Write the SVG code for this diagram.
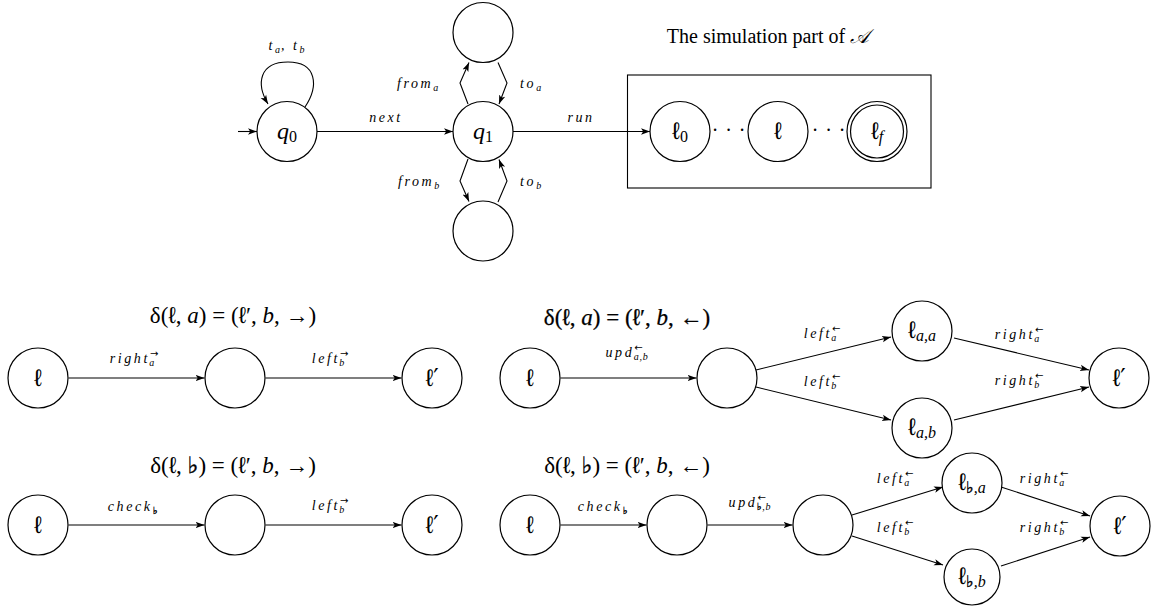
<svg xmlns="http://www.w3.org/2000/svg" width="1160" height="606" viewBox="0 0 1160 606">
<style>
  .st { fill: #fff; stroke: #000; stroke-width: 1.2; }
  .ed { fill: none; stroke: #000; stroke-width: 1.1; marker-end: url(#ah); }
  .box { fill: none; stroke: #000; stroke-width: 1.1; }
  .el { font-family: "Liberation Serif", "DejaVu Serif", serif; font-style: italic; font-size: 14px; letter-spacing: 2.6px; fill: #000; }
  .sup { font-family: "DejaVu Sans", sans-serif; font-style: normal; font-size: 10px; letter-spacing: 0; }
  .sub { font-size: 10px; letter-spacing: 0.8px; }
  .nl { font-family: "Liberation Serif", "DejaVu Serif", serif; font-size: 24px; fill: #000; }
  .it { font-style: italic; }
  .ns { font-size: 16px; }
  .nsi { font-size: 16px; font-style: italic; }
  .ti { font-family: "Liberation Serif", "DejaVu Serif", serif; font-size: 23px; fill: #000; }
  .tb { stroke: #000; stroke-width: 0.25; }
  .cap { font-family: "Liberation Serif", "DejaVu Serif", serif; font-size: 20px; fill: #000; }
  .fl { font-family: "DejaVu Sans", "DejaVu Serif", sans-serif; font-style: normal; fill: #000; stroke: #000; stroke-width: 0.4; font-variant-emoji: text; }
  .ell { font-family: "DejaVu Sans", "DejaVu Serif", sans-serif; font-style: normal; font-weight: 200; }
</style>
<defs>
  <marker id="ah" markerWidth="10" markerHeight="8" refX="9" refY="4" orient="auto" markerUnits="userSpaceOnUse">
    <path d="M0,0.8 L9,4 L0,7.2 L2.2,4 z" fill="#000"/>
  </marker>
</defs>

<!-- Top: controller part -->
<text class="cap" x="768" y="43" text-anchor="middle">The simulation part of <tspan font-style="italic" font-family="DejaVu Serif, Liberation Serif, serif">𝒜</tspan></text>
<rect class="box" x="627.5" y="75" width="303.5" height="113"/>

<g id="connectors">
  <!-- top -->
  <line class="ed" x1="238" y1="131.5" x2="257" y2="131.5"/>
  <path class="ed" d="M305,107 C319,86 317,62 288,62 C259,62 256,84 268,104"/>
  <line class="ed" x1="317" y1="131.5" x2="453" y2="131.5"/>
  <polyline class="ed" points="468,104 460,83 469,62.5"/>
  <polyline class="ed" points="498,62.5 507,83 499,104"/>
  <polyline class="ed" points="468,159 460,181 469,201.5"/>
  <polyline class="ed" points="498,202 507,181 499,159.5"/>
  <line class="ed" x1="513" y1="131.5" x2="650" y2="131.5"/>
  <!-- row 1 left -->
  <line class="ed" x1="68.5" y1="378" x2="204.5" y2="378"/>
  <line class="ed" x1="265.5" y1="378" x2="401.5" y2="378"/>
  <!-- row 1 right -->
  <line class="ed" x1="560.5" y1="378" x2="696.5" y2="378"/>
  <line class="ed" x1="756" y1="370" x2="891" y2="337"/>
  <line class="ed" x1="756" y1="387" x2="891" y2="420"/>
  <line class="ed" x1="954" y1="338" x2="1089" y2="370"/>
  <line class="ed" x1="954" y1="420" x2="1089" y2="387"/>
  <!-- row 2 left -->
  <line class="ed" x1="68.5" y1="525" x2="204.5" y2="525"/>
  <line class="ed" x1="265.5" y1="525" x2="401.5" y2="525"/>
  <!-- row 2 right -->
  <line class="ed" x1="560.5" y1="525" x2="646.5" y2="525"/>
  <line class="ed" x1="707.5" y1="525" x2="792.5" y2="525"/>
  <line class="ed" x1="852" y1="515" x2="943" y2="487"/>
  <line class="ed" x1="852" y1="536" x2="943" y2="565"/>
  <line class="ed" x1="1001" y1="487" x2="1090" y2="516"/>
  <line class="ed" x1="1001" y1="566" x2="1090" y2="537"/>
</g>

<g id="edge-labels">
  <text class="el" x="287" y="50" text-anchor="middle">t<tspan class="sub" dy="3">a</tspan><tspan dy="-3">, t</tspan><tspan class="sub" dy="3">b</tspan></text>
  <text class="el" x="386" y="122" text-anchor="middle">next</text>
  <text class="el" x="418" y="88" text-anchor="middle">from<tspan class="sub" dy="3">a</tspan></text>
  <text class="el" x="531" y="88" text-anchor="middle">to<tspan class="sub" dy="3">a</tspan></text>
  <text class="el" x="419" y="186" text-anchor="middle">from<tspan class="sub" dy="3">b</tspan></text>
  <text class="el" x="531" y="186" text-anchor="middle">to<tspan class="sub" dy="3">b</tspan></text>
  <text class="el" x="581" y="122" text-anchor="middle">run</text>

  <text class="el" x="134" y="363" text-anchor="middle">right<tspan class="sup" dy="-6">→</tspan><tspan class="sub" dx="-9" dy="9">a</tspan></text>
  <text class="el" x="330" y="363" text-anchor="middle">left<tspan class="sup" dy="-6">→</tspan><tspan class="sub" dx="-9" dy="9">b</tspan></text>

  <text class="el" x="627" y="357" text-anchor="middle">upd<tspan class="sup" dy="-6">←</tspan><tspan class="sub" dx="-9" dy="9">a,b</tspan></text>
  <text class="el" x="822" y="338" text-anchor="middle">left<tspan class="sup" dy="-6">←</tspan><tspan class="sub" dx="-9" dy="9">a</tspan></text>
  <text class="el" x="822" y="386" text-anchor="middle">left<tspan class="sup" dy="-6">←</tspan><tspan class="sub" dx="-9" dy="9">b</tspan></text>
  <text class="el" x="1019" y="339" text-anchor="middle">right<tspan class="sup" dy="-6">←</tspan><tspan class="sub" dx="-9" dy="9">a</tspan></text>
  <text class="el" x="1019" y="385" text-anchor="middle">right<tspan class="sup" dy="-6">←</tspan><tspan class="sub" dx="-9" dy="9">b</tspan></text>

  <text class="el" x="133" y="511" text-anchor="middle">check<tspan class="sub fl" dy="3">♭︎</tspan></text>
  <text class="el" x="330" y="510" text-anchor="middle">left<tspan class="sup" dy="-6">→</tspan><tspan class="sub" dx="-9" dy="9">b</tspan></text>

  <text class="el" x="603" y="511" text-anchor="middle">check<tspan class="sub fl" dy="3">♭︎</tspan></text>
  <text class="el" x="750" y="507" text-anchor="middle">upd<tspan class="sup" dy="-6">←</tspan><tspan class="sub fl" dx="-9" dy="9">♭︎</tspan><tspan class="sub">,b</tspan></text>
  <text class="el" x="895" y="483" text-anchor="middle">left<tspan class="sup" dy="-6">←</tspan><tspan class="sub" dx="-9" dy="9">a</tspan></text>
  <text class="el" x="895" y="532" text-anchor="middle">left<tspan class="sup" dy="-6">←</tspan><tspan class="sub" dx="-9" dy="9">b</tspan></text>
  <text class="el" x="1044" y="483" text-anchor="middle">right<tspan class="sup" dy="-6">←</tspan><tspan class="sub" dx="-9" dy="9">a</tspan></text>
  <text class="el" x="1044" y="532" text-anchor="middle">right<tspan class="sup" dy="-6">←</tspan><tspan class="sub" dx="-9" dy="9">b</tspan></text>
</g>

<!-- Titles -->
<text class="ti" x="233" y="323" text-anchor="middle">δ(<tspan class="ell">ℓ</tspan>, <tspan class="it">a</tspan>) = (<tspan class="ell">ℓ</tspan>′, <tspan class="it">b</tspan>, →)</text>
<text class="ti tb" x="627" y="325" text-anchor="middle" font-size="24">δ(<tspan class="ell">ℓ</tspan>, <tspan class="it">a</tspan>) = (<tspan class="ell">ℓ</tspan>′, <tspan class="it">b</tspan>, ←)</text>
<text class="ti" x="233" y="473" text-anchor="middle">δ(<tspan class="ell">ℓ</tspan>, <tspan class="fl">♭︎</tspan>) = (<tspan class="ell">ℓ</tspan>′, <tspan class="it">b</tspan>, →)</text>
<text class="ti" x="627" y="473" text-anchor="middle">δ(<tspan class="ell">ℓ</tspan>, <tspan class="fl">♭︎</tspan>) = (<tspan class="ell">ℓ</tspan>′, <tspan class="it">b</tspan>, ←)</text>

<!-- Top nodes -->
<g id="q0"><circle class="st" cx="287" cy="131.5" r="30"/><text class="nl" x="287" y="139" text-anchor="middle"><tspan class="it">q</tspan><tspan class="ns" dy="3">0</tspan></text></g>
<g id="q1"><circle class="st" cx="483" cy="131.5" r="30"/><text class="nl" x="483" y="139" text-anchor="middle"><tspan class="it">q</tspan><tspan class="ns" dy="3">1</tspan></text></g>
<g id="qa"><circle class="st" cx="483" cy="32.5" r="30"/></g>
<g id="qb"><circle class="st" cx="483" cy="231" r="30"/></g>
<g id="l0"><circle class="st" cx="680" cy="131.5" r="30"/><text class="nl" x="680" y="139" text-anchor="middle"><tspan class="ell">ℓ</tspan><tspan class="ns" dy="3">0</tspan></text></g>
<g id="lmid"><circle class="st" cx="778" cy="131.5" r="30"/><text class="nl ell" x="778" y="139" text-anchor="middle">ℓ</text></g>
<g id="lf"><circle class="st" cx="877" cy="131.5" r="30"/><circle class="st" cx="877" cy="131.5" r="26.5"/><text class="nl" x="877" y="139" text-anchor="middle"><tspan class="ell">ℓ</tspan><tspan class="nsi" dy="3">f</tspan></text></g>
<g id="dots">
  <text class="cap" x="715 728.5 742" y="137" text-anchor="middle">···</text>
  <text class="cap" x="815 828.5 842" y="137" text-anchor="middle">···</text>
</g>

<!-- Row 1 left -->
<g id="r1l-l"><circle class="st" cx="38" cy="378" r="30"/><text class="nl ell" x="38" y="386" text-anchor="middle">ℓ</text></g>
<g id="r1l-m"><circle class="st" cx="235" cy="378" r="30"/></g>
<g id="r1l-r"><circle class="st" cx="432" cy="378" r="30"/><text class="nl ell" x="432" y="386" text-anchor="middle">ℓ′</text></g>

<!-- Row 1 right -->
<g id="r1r-l"><circle class="st" cx="530" cy="378" r="30"/><text class="nl ell" x="530" y="386" text-anchor="middle">ℓ</text></g>
<g id="r1r-m"><circle class="st" cx="727" cy="378" r="30"/></g>
<g id="r1r-aa"><circle class="st" cx="922" cy="331" r="30"/><text class="nl" x="922" y="338" text-anchor="middle"><tspan class="ell">ℓ</tspan><tspan class="nsi" dy="3">a,a</tspan></text></g>
<g id="r1r-ab"><circle class="st" cx="922" cy="428" r="30"/><text class="nl" x="922" y="435" text-anchor="middle"><tspan class="ell">ℓ</tspan><tspan class="nsi" dy="3">a,b</tspan></text></g>
<g id="r1r-r"><circle class="st" cx="1119" cy="378" r="30"/><text class="nl ell" x="1119" y="386" text-anchor="middle">ℓ′</text></g>

<!-- Row 2 left -->
<g id="r2l-l"><circle class="st" cx="38" cy="525" r="30"/><text class="nl ell" x="38" y="533" text-anchor="middle">ℓ</text></g>
<g id="r2l-m"><circle class="st" cx="235" cy="525" r="30"/></g>
<g id="r2l-r"><circle class="st" cx="432" cy="525" r="30"/><text class="nl ell" x="432" y="533" text-anchor="middle">ℓ′</text></g>

<!-- Row 2 right -->
<g id="r2r-l"><circle class="st" cx="530" cy="525" r="30"/><text class="nl ell" x="530" y="533" text-anchor="middle">ℓ</text></g>
<g id="r2r-m1"><circle class="st" cx="677" cy="525" r="30"/></g>
<g id="r2r-m2"><circle class="st" cx="823" cy="525" r="30"/></g>
<g id="r2r-ba"><circle class="st" cx="972" cy="483" r="30"/><text class="nl" x="972" y="490" text-anchor="middle"><tspan class="ell">ℓ</tspan><tspan class="ns fl" dy="3">♭︎</tspan><tspan class="nsi">,a</tspan></text></g>
<g id="r2r-bb"><circle class="st" cx="972" cy="577" r="28"/><text class="nl" x="972" y="584" text-anchor="middle"><tspan class="ell">ℓ</tspan><tspan class="ns fl" dy="3">♭︎</tspan><tspan class="nsi">,b</tspan></text></g>
<g id="r2r-r"><circle class="st" cx="1120" cy="526" r="30"/><text class="nl ell" x="1120" y="534" text-anchor="middle">ℓ′</text></g>
</svg>
